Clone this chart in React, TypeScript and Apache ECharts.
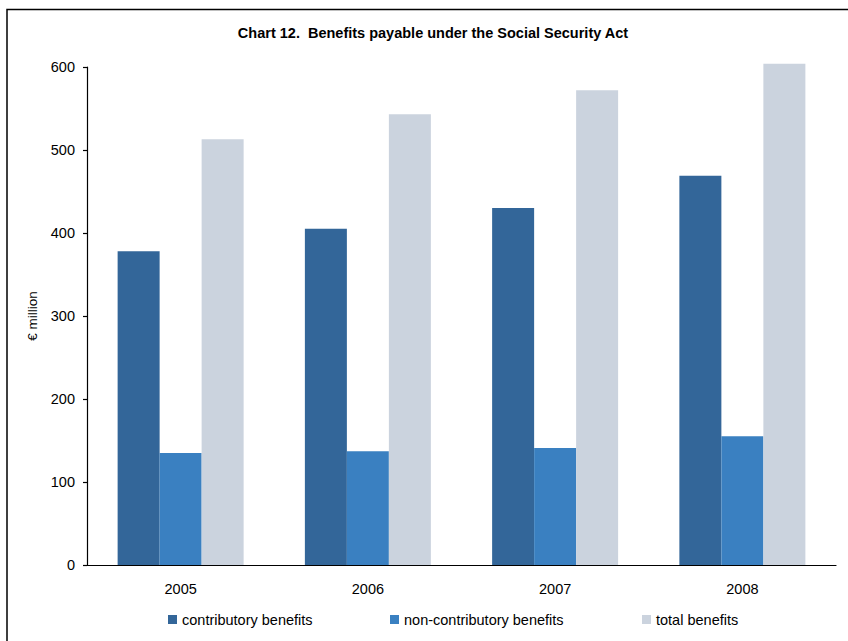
import React, { useEffect, useRef } from "react";
import * as echarts from "echarts";

const years = ["2005", "2006", "2007", "2008"];
const contributory = [378, 405, 430, 469];
const nonContributory = [135, 137, 141, 155];
const totalBenefits = [513, 543, 572, 604];
const yTicks = { min: 0, max: 600, interval: 100 };

const FONT = "'Liberation Sans', Arial, Helvetica, sans-serif";

export default function App() {
  const ref = useRef<HTMLDivElement>(null);
  useEffect(() => {
    if (!ref.current) return;
    const chart = echarts.init(ref.current, null, { renderer: "svg" });
    const legendBase = {
      top: 612,
      padding: 0,
      itemWidth: 9,
      itemHeight: 9,
      icon: "rect",
      textStyle: { fontFamily: FONT, fontSize: 14.5, color: "#000" },
    };
    chart.setOption({
      animation: false,
      backgroundColor: "#fff",
      title: {
        text: "Chart 12.  Benefits payable under the Social Security Act",
        left: 433,
        textAlign: "center",
        top: 25,
        padding: 0,
        textStyle: { fontFamily: FONT, fontSize: 14.5, fontWeight: "bold", color: "#000" },
      },
      grid: { left: 87, top: 67, right: 12, bottom: 76, containLabel: false },
      legend: [
        { ...legendBase, left: 168, data: ["contributory benefits"] },
        { ...legendBase, left: 390, data: ["non-contributory benefits"] },
        { ...legendBase, left: 642, data: ["total benefits"] },
      ],
      xAxis: {
        type: "category",
        data: years,
        axisLine: { lineStyle: { color: "#000", width: 1.2 } },
        axisTick: { length: 5, lineStyle: { color: "#000", width: 1.2 } },
        axisLabel: { margin: 16, fontFamily: FONT, fontSize: 14.5, color: "#000" },
      },
      yAxis: {
        type: "value",
        min: yTicks.min,
        max: yTicks.max,
        interval: yTicks.interval,
        name: "€ million",
        nameLocation: "middle",
        nameRotate: 90,
        nameGap: 48,
        nameTextStyle: { fontFamily: FONT, fontSize: 13.5, color: "#000" },
        axisLine: { show: true, lineStyle: { color: "#000", width: 1.2 } },
        axisTick: { show: true, length: 4, lineStyle: { color: "#000", width: 1.2 } },
        axisLabel: { margin: 12, fontFamily: FONT, fontSize: 14.5, color: "#000" },
        splitLine: { show: false },
      },
      series: [
        {
          name: "contributory benefits",
          type: "bar",
          data: contributory,
          barWidth: 42,
          barGap: "0%",
          clip: false,
          itemStyle: { color: "#336699" },
        },
        {
          name: "non-contributory benefits",
          type: "bar",
          data: nonContributory,
          barWidth: 42,
          barGap: "0%",
          clip: false,
          itemStyle: { color: "#3A80C1" },
        },
        {
          name: "total benefits",
          type: "bar",
          data: totalBenefits,
          barWidth: 42,
          barGap: "0%",
          clip: false,
          itemStyle: { color: "#CBD3DE" },
        },
      ],
      graphic: [
        {
          type: "polyline",
          shape: { points: [[7, 641], [7, 9.5], [848, 9.5]] },
          style: { stroke: "#000", lineWidth: 1.5, fill: null },
          silent: true,
        },
      ],
    });
    return () => chart.dispose();
  }, []);
  return <div ref={ref} style={{ width: 848, height: 641, position: "absolute", left: 0, top: 0 }} />;
}
